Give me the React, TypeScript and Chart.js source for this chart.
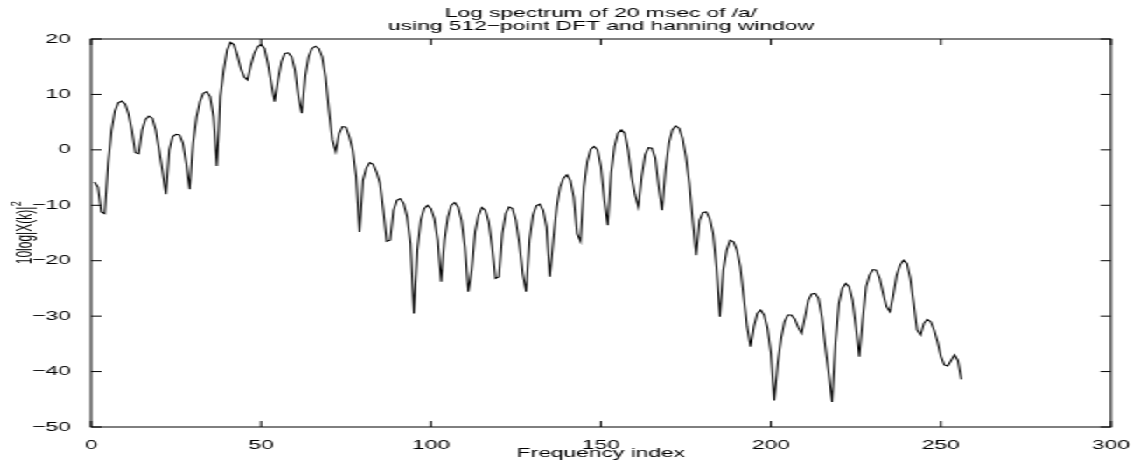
import { useEffect, useRef } from "react";
import { Chart, registerables } from "chart.js";

Chart.register(...registerables);

// DFT bin numbers (1-based) and the log magnitude spectrum in dB
const frequencyIndex: number[] = Array.from({ length: 256 }, (_, i) => i + 1);

const logSpectrumDb: number[] = [
  -5.8, -6.7, -11.2, -11.5, -2.5, 3.5, 7.0, 8.5, 8.8, 8.3,
  6.5, 3.5, -0.5, -0.7, 3.6, 5.5, 6.1, 5.7, 3.6, 0.0,
  -3.8, -8.0, 0.0, 2.4, 2.8, 2.7, 1.2, -2.4, -7.1, 1.2,
  5.9, 8.7, 10.2, 10.5, 9.6, 6.0, -2.9, 9.6, 14.4, 18.0,
  19.4, 19.0, 17.1, 14.7, 13.2, 12.6, 15.3, 17.4, 18.6, 19.0,
  18.3, 15.6, 12.0, 8.7, 12.6, 15.9, 17.4, 17.5, 16.8, 14.4,
  9.6, 6.6, 13.2, 16.8, 18.3, 18.7, 18.3, 16.8, 13.2, 7.2,
  1.8, -0.3, 3.0, 4.2, 4.1, 2.4, 0.0, -4.8, -14.8, -5.5,
  -3.3, -2.3, -2.6, -4.0, -6.0, -10.9, -16.5, -16.3, -10.9, -9.1,
  -8.8, -9.7, -12.1, -16.9, -29.5, -18.1, -12.7, -10.6, -10.0, -10.6,
  -12.4, -16.3, -23.8, -16.3, -12.1, -10.0, -9.5, -10.3, -12.7, -17.5,
  -25.6, -21.7, -14.8, -11.8, -10.4, -10.9, -13.0, -17.5, -23.2, -22.9,
  -15.1, -11.5, -10.3, -10.6, -12.7, -16.9, -22.3, -25.6, -16.3, -11.8,
  -10.1, -9.8, -10.9, -13.9, -22.9, -16.3, -10.3, -6.7, -5.1, -4.5,
  -5.5, -8.5, -15.1, -16.5, -6.7, -2.1, 0.1, 0.6, 0.0, -3.0,
  -9.1, -13.6, -4.2, 0.6, 3.0, 3.6, 3.0, 0.0, -4.8, -8.0,
  -10.3, -4.8, -0.9, 0.4, 0.3, -1.5, -6.7, -10.9, -3.6, 1.2,
  3.6, 4.3, 3.9, 2.1, -1.2, -6.0, -12.7, -19.0, -12.7, -11.3,
  -11.2, -12.4, -15.1, -21.1, -30.1, -21.7, -18.1, -16.3, -16.6, -18.1,
  -21.1, -26.5, -31.9, -35.5, -31.9, -29.5, -28.9, -29.8, -32.2, -36.7,
  -45.2, -38.5, -34.0, -31.0, -29.8, -29.8, -30.5, -32.0, -33.1, -30.2,
  -27.1, -26.0, -25.9, -26.8, -30.1, -35.5, -40.3, -45.5, -34.9, -27.7,
  -25.0, -24.1, -24.7, -27.1, -31.9, -37.3, -30.7, -24.7, -22.6, -21.6,
  -21.7, -23.2, -25.9, -28.3, -29.2, -26.2, -22.6, -20.8, -19.9, -20.5,
  -23.2, -27.7, -32.5, -33.4, -31.3, -30.6, -31.0, -32.5, -34.6, -37.3,
  -38.8, -39.0, -38.0, -37.0, -38.0, -41.4,
];

const xTickValues: number[] = [0, 50, 100, 150, 200, 250, 300];
const yTickValues: number[] = [-50, -40, -30, -20, -10, 0, 10, 20];

const titleLines: string[] = [
  "Log spectrum of 20 msec of /a/",
  "using 512\u2212point DFT and hanning window",
];
const xAxisLabel = "Frequency index";
const yAxisLabel = "10log|X(k)|";
const yAxisLabelPower = "2";

// The figure is drawn narrow and widened with a CSS scale, like a stretched print.
const STRETCH = 1.75;
const FIG_W = 1141;
const FIG_H = 464;
const INNER_W = FIG_W / STRETCH;
const AXES = { left: 91, right: 1111, top: 39, bottom: 427 };
const TICK_LEN = 6;
const FONT = "'Liberation Sans', Arial, Helvetica, sans-serif";

const fmtTick = (v: number) => (v < 0 ? "\u2212" + Math.abs(v) : String(v));

const axesFrame = {
  id: "axesFrame",
  afterDraw(chart: any) {
    const { ctx, chartArea: a, scales } = chart;
    ctx.save();
    ctx.strokeStyle = "#000";
    ctx.lineWidth = 1;
    ctx.strokeRect(a.left, a.top, a.right - a.left, a.bottom - a.top);
    ctx.beginPath();
    for (const v of xTickValues) {
      const px = scales.x.getPixelForValue(v);
      ctx.moveTo(px, a.bottom);
      ctx.lineTo(px, a.bottom - TICK_LEN);
      ctx.moveTo(px, a.top);
      ctx.lineTo(px, a.top + TICK_LEN);
    }
    for (const v of yTickValues) {
      const py = scales.y.getPixelForValue(v);
      ctx.moveTo(a.left, py);
      ctx.lineTo(a.left + TICK_LEN, py);
      ctx.moveTo(a.right, py);
      ctx.lineTo(a.right - TICK_LEN, py);
    }
    ctx.stroke();

    const cx = (a.left + a.right) / 2;
    ctx.fillStyle = "#000";
    ctx.textAlign = "center";
    ctx.textBaseline = "alphabetic";
    ctx.font = `13px ${FONT}`;
    ctx.fillText(titleLines[0], cx, 16.5);
    ctx.fillText(titleLines[1], cx, 29.5);
    ctx.fillText(xAxisLabel, cx, 457);

    // rotated y label with a superscript power
    const cy = (a.top + a.bottom) / 2;
    ctx.translate(31 / STRETCH, cy);
    ctx.rotate(-Math.PI / 2);
    ctx.font = `12px ${FONT}`;
    const w1 = ctx.measureText(yAxisLabel).width;
    ctx.font = `9px ${FONT}`;
    const w2 = ctx.measureText(yAxisLabelPower).width;
    const start = -(w1 + w2) / 2;
    ctx.textAlign = "left";
    ctx.font = `12px ${FONT}`;
    ctx.fillText(yAxisLabel, start, 0);
    ctx.font = `9px ${FONT}`;
    ctx.fillText(yAxisLabelPower, start + w1 + 0.5, -6);
    ctx.restore();
  },
};

export default function App() {
  const canvasRef = useRef<HTMLCanvasElement | null>(null);

  useEffect(() => {
    if (!canvasRef.current) return;
    const chart = new Chart(canvasRef.current, {
      type: "line",
      data: {
        datasets: [
          {
            data: frequencyIndex.map((k, i) => ({ x: k, y: logSpectrumDb[i] })),
            borderColor: "#000",
            borderWidth: 1.05,
            pointRadius: 0,
            tension: 0,
            fill: false,
          },
        ],
      },
      options: {
        animation: false,
        responsive: true,
        maintainAspectRatio: false,
        events: [],
        layout: {
          padding: {
            top: AXES.top,
            left: 0,
            bottom: 0,
            right: INNER_W - AXES.right / STRETCH,
          },
        },
        plugins: {
          legend: { display: false },
          tooltip: { enabled: false },
          title: { display: false },
        },
        scales: {
          x: {
            type: "linear",
            min: 0,
            max: 300,
            grid: { display: false },
            border: { display: false },
            afterBuildTicks: (s: any) => {
              s.ticks = xTickValues.map((value) => ({ value }));
            },
            afterFit: (s: any) => {
              s.height = FIG_H - AXES.bottom;
            },
            ticks: {
              color: "#000",
              padding: 3,
              maxRotation: 0,
              autoSkip: false,
              font: { family: FONT, size: 13 },
              callback: (v: any) => fmtTick(Number(v)),
            },
          },
          y: {
            type: "linear",
            min: -50,
            max: 20,
            grid: { display: false },
            border: { display: false },
            afterBuildTicks: (s: any) => {
              s.ticks = yTickValues.map((value) => ({ value }));
            },
            afterFit: (s: any) => {
              s.width = AXES.left / STRETCH;
            },
            ticks: {
              color: "#000",
              padding: 3.5,
              autoSkip: false,
              font: { family: FONT, size: 13 },
              callback: (v: any) => fmtTick(Number(v)),
            },
          },
        },
      },
      plugins: [axesFrame],
    });
    return () => chart.destroy();
  }, []);

  return (
    <div
      style={{
        position: "fixed",
        left: 0,
        top: 0,
        width: INNER_W,
        height: FIG_H,
        background: "#fff",
        transform: `scaleX(${STRETCH})`,
        transformOrigin: "0 0",
      }}
    >
      <canvas ref={canvasRef} />
    </div>
  );
}
